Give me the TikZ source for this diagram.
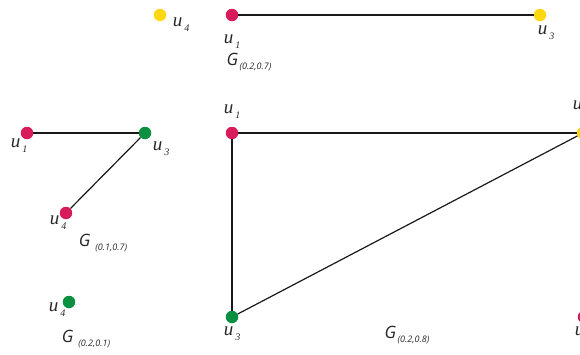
\documentclass[tikz,border=0pt]{standalone}
\usepackage{fontspec}
\setmainfont{Liberation Serif}
\newfontfamily\gfont{Open Sans}
\definecolor{cred}{HTML}{D81B5A}
\definecolor{cyel}{HTML}{FFD712}
\definecolor{cgrn}{HTML}{0B8F40}
\newcommand{\ulab}[1]{\textit{u}\hspace{2pt}\raisebox{-5pt}{\fontsize{10}{10}\selectfont\textit{#1}}}
\newcommand{\glab}[2][1.5pt]{{\gfont\itshape G}\hspace{#1}\raisebox{-4pt}{\gfont\itshape\fontsize{9}{9}\selectfont #2}}
\begin{document}
\begin{tikzpicture}[x=1pt,y=-1pt,
  vtx/.style={circle,minimum size=12.5pt,inner sep=0pt,draw=none},
  lab/.style={inner sep=0pt,font=\fontsize{19}{19}\selectfont,text=black!85},
  glabel/.style={inner sep=0pt,font=\fontsize{17}{17}\selectfont,text=black!85},
  edge/.style={line width=1.2pt,black!90}]
\useasboundingbox (0,0) rectangle (580,354);
\clip (0,0) rectangle (580,354);
% top graph
\node[vtx,fill=cyel] (t4) at (160,15) {};
\node[vtx,fill=cred] (t1) at (232,15) {};
\node[vtx,fill=cyel] (t3) at (540,15) {};
\draw[edge] (t1) -- (t3);
\node[lab] (lt4) at (181,25) {\ulab{4}};
\node[lab] (lt1) at (232,42) {\ulab{1}};
\node[lab] (lt3) at (546,33) {\ulab{3}};
\node[glabel] (gt) at (249,62) {\glab{(0.2,0.7)}};
% left graph
\node[vtx,fill=cred] (l1) at (27,133) {};
\node[vtx,fill=cgrn] (l3) at (145,133) {};
\node[vtx,fill=cred] (l4) at (66,213) {};
\draw[edge] (l1) -- (l3);
\draw[edge] (l3) -- (l4);
\node[lab] (ll1) at (19,146) {\ulab{1}};
\node[lab] (ll3) at (161,149) {\ulab{3}};
\node[lab] (ll4) at (58,223) {\ulab{4}};
\node[glabel] (gl) at (103,243) {\glab[5pt]{(0.1,0.7)}};
% bottom-left single vertex
\node[vtx,fill=cgrn] (b4) at (69,302) {};
\node[lab] (lb4) at (57,310) {\ulab{4}};
\node[glabel] (gb) at (86,339) {\glab[5pt]{(0.2,0.1)}};
% big graph
\node[vtx,fill=cred] (r1) at (232,133) {};
\node[vtx,fill=cyel] (r2) at (583,133) {};
\node[vtx,fill=cgrn] (r3) at (232,317) {};
\node[vtx,fill=cred] (r4) at (584,317) {};
\draw[edge] (r1) -- (r2);
\draw[edge] (r1) -- (r3);
\draw[edge] (r3) -- (r2);
\node[lab] (lr1) at (232,112) {\ulab{1}};
\node[lab] (lr2) at (581,108) {\ulab{2}};
\node[lab] (lr3) at (232,334) {\ulab{3}};
\node[lab] (lr4) at (583,334) {\ulab{4}};
\node[glabel] (gr) at (407,335) {\glab{(0.2,0.8)}};
\end{tikzpicture}
\end{document}
